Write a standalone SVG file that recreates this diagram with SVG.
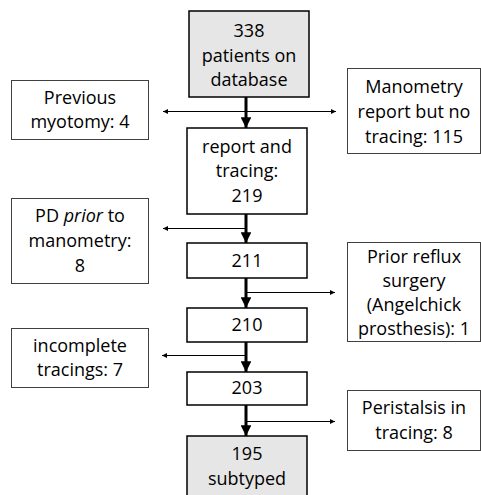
<svg xmlns="http://www.w3.org/2000/svg" width="481" height="495" viewBox="0 0 481 495">
<defs>
<style>
.main{fill:#fff;stroke:#000;stroke-width:1.5}
.gray{fill:#e6e6e6}
.side{fill:#fff;stroke:#404040;stroke-width:1}
text{font-family:"Open Sans","Liberation Sans",Arial,sans-serif;font-size:18px;fill:#000;text-anchor:middle}
.thick{stroke:#000;stroke-width:3;fill:none}
.thin{stroke:#000;stroke-width:1;fill:none}
</style>
<marker id="big" viewBox="0 0 10 10" refX="10" refY="5" markerWidth="3.6" markerHeight="3.6" orient="auto" markerUnits="strokeWidth">
<path d="M0,0 L10,5 L0,10 z" fill="#000"/>
</marker>
<marker id="small" viewBox="0 0 10 10" refX="10" refY="5" markerWidth="7" markerHeight="5" orient="auto-start-reverse" markerUnits="strokeWidth">
<path d="M0,0 L10,5 L0,10 z" fill="#000"/>
</marker>
</defs>
<g id="connectors">
<line class="thick" x1="246" y1="97" x2="246" y2="128" marker-end="url(#big)"/>
<line class="thick" x1="246" y1="214" x2="246" y2="243" marker-end="url(#big)"/>
<line class="thick" x1="246" y1="278" x2="246" y2="308" marker-end="url(#big)"/>
<line class="thick" x1="246" y1="342" x2="246" y2="372" marker-end="url(#big)"/>
<line class="thick" x1="246" y1="405" x2="246" y2="436" marker-end="url(#big)"/>
<line class="thin" x1="163" y1="111.5" x2="336" y2="111.5" marker-start="url(#small)" marker-end="url(#small)"/>
<line class="thin" x1="246" y1="228.5" x2="163" y2="228.5" marker-end="url(#small)"/>
<line class="thin" x1="246" y1="292.5" x2="335" y2="292.5" marker-end="url(#small)"/>
<line class="thin" x1="246" y1="355.5" x2="162" y2="355.5" marker-end="url(#small)"/>
<line class="thin" x1="246" y1="421.5" x2="335" y2="421.5" marker-end="url(#small)"/>
</g>
<g id="n338">
<rect class="main gray" x="189" y="11" width="120" height="86"/>
<text x="249" y="37">338</text>
<text x="249" y="62">patients on</text>
<text x="249" y="86">database</text>
</g>
<g id="nmyotomy">
<rect class="side" x="11.5" y="80.5" width="137" height="59"/>
<text x="80" y="104">Previous</text>
<text x="80" y="128">myotomy: 4</text>
</g>
<g id="nmanometry">
<rect class="side" x="347.5" y="68.5" width="133" height="85"/>
<text x="414" y="93">Manometry</text>
<text x="414" y="118">report but no</text>
<text x="414" y="143">tracing: 115</text>
</g>
<g id="n219">
<rect class="main" x="187" y="128" width="120" height="86"/>
<text x="247" y="153">report and</text>
<text x="247" y="177">tracing:</text>
<text x="247" y="202">219</text>
</g>
<g id="nprior">
<rect class="side" x="11.5" y="198.5" width="137" height="85"/>
<text x="80" y="222">PD <tspan font-style="italic">prior</tspan> to</text>
<text x="80" y="247">manometry:</text>
<text x="80" y="272">8</text>
</g>
<g id="n211">
<rect class="main" x="187" y="243" width="120" height="35"/>
<text x="247" y="267">211</text>
</g>
<g id="nreflux">
<rect class="side" x="347.5" y="242.5" width="133" height="99"/>
<text x="414" y="263">Prior reflux</text>
<text x="414" y="287">surgery</text>
<text x="414" y="311">(Angelchick</text>
<text x="414" y="335">prosthesis): 1</text>
</g>
<g id="n210">
<rect class="main" x="187" y="308" width="120" height="34"/>
<text x="247" y="331">210</text>
</g>
<g id="nincomplete">
<rect class="side" x="11.5" y="328.5" width="137" height="59"/>
<text x="80" y="352">incomplete</text>
<text x="80" y="376">tracings: 7</text>
</g>
<g id="n203">
<rect class="main" x="187" y="372" width="120" height="33"/>
<text x="247" y="394">203</text>
</g>
<g id="nperistalsis">
<rect class="side" x="347.5" y="390.5" width="133" height="60"/>
<text x="414" y="414">Peristalsis in</text>
<text x="414" y="439">tracing: 8</text>
</g>
<g id="n195">
<rect class="main gray" x="187" y="436" width="120" height="70"/>
<text x="247" y="460">195</text>
<text x="247" y="485">subtyped</text>
</g>
</svg>
